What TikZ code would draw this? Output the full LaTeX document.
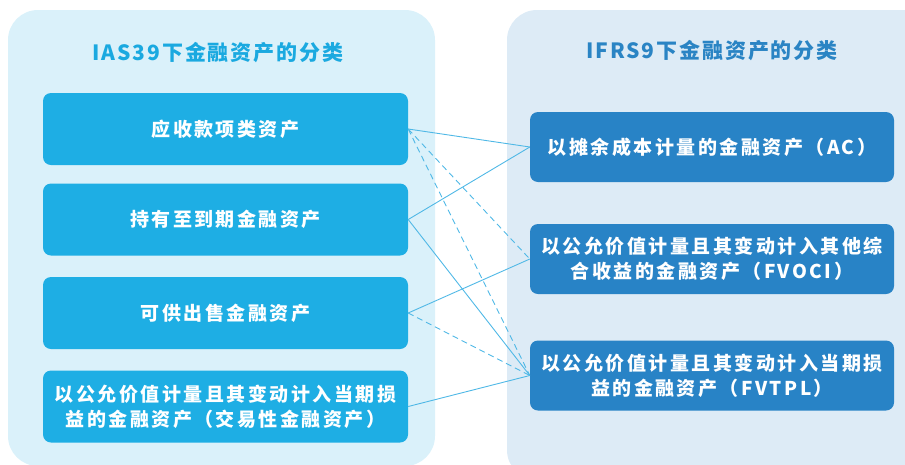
\documentclass[tikz,border=0pt]{standalone}
\usepackage{fontspec}
\newfontfamily\cjk[LetterSpace=13]{Noto Sans CJK SC}
\newfontfamily\cjkt[LetterSpace=9]{Noto Sans CJK SC}
\definecolor{panL}{HTML}{DAF1FA}
\definecolor{panR}{HTML}{DDEBF6}
\definecolor{boxL}{HTML}{1EAEE4}
\definecolor{boxR}{HTML}{2883C6}
\definecolor{titL}{HTML}{1AA9E0}
\definecolor{titR}{HTML}{2A84C4}
\definecolor{lineC}{HTML}{4FB8E6}
\begin{document}
\begin{tikzpicture}[x=1pt,y=-1pt,
  lbox/.style={fill=boxL, rounded corners=8pt, minimum width=365pt, minimum height=72pt, inner sep=0pt,
    text=white, align=center, font=\cjk\bfseries\fontsize{19}{25}\selectfont},
  rbox/.style={fill=boxR, rounded corners=8pt, minimum width=364pt, minimum height=70pt, inner sep=0pt,
    text=white, align=center, font=\cjk\bfseries\fontsize{19}{25}\selectfont},
  ptitle/.style={font=\cjkt\bfseries\fontsize{21}{25}\selectfont},
  conn/.style={draw=lineC, line width=0.9pt},
  connd/.style={draw=lineC, line width=0.9pt, dash pattern=on 6pt off 4pt}
]
\useasboundingbox (0,0) rectangle (905,464);
\clip (0,0) rectangle (905,464);
\fill[panL, rounded corners=30pt] (8,10) rectangle (435,466);
\fill[panR, rounded corners=30pt] (507,10) rectangle (935,480);
\node[ptitle, text=titL] (tl) at (218,53) {IAS39下金融资产的分类};
\node[ptitle, text=titR] (tr) at (712,51) {IFRS9下金融资产的分类};
\node[lbox] (l1) at (225.5,129) {应收款项类资产};
\node[lbox] (l2) at (225.5,219.5) {持有至到期金融资产};
\node[lbox] (l3) at (225.5,313) {可供出售金融资产};
\node[lbox] (l4) at (225.5,406.5) {以公允价值计量且其变动计入当期损\\益的金融资产（交易性金融资产）};
\node[rbox] (r1) at (712,147) {以摊余成本计量的金融资产（AC）};
\node[rbox] (r2) at (712,259) {以公允价值计量且其变动计入其他综\\合收益的金融资产（FVOCI）};
\node[rbox] (r3) at (712,375.5) {以公允价值计量且其变动计入当期损\\益的金融资产（FVTPL）};
\draw[conn] (l1.east) -- (r1.west);
\draw[connd] (l1.east) -- (r2.west);
\draw[connd] (l1.east) -- (r3.west);
\draw[conn] (l2.east) -- (r1.west);
\draw[conn] (l2.east) -- (r3.west);
\draw[conn] (l3.east) -- (r2.west);
\draw[connd] (l3.east) -- (r3.west);
\draw[conn] (l4.east) -- (r3.west);
\end{tikzpicture}
\end{document}
